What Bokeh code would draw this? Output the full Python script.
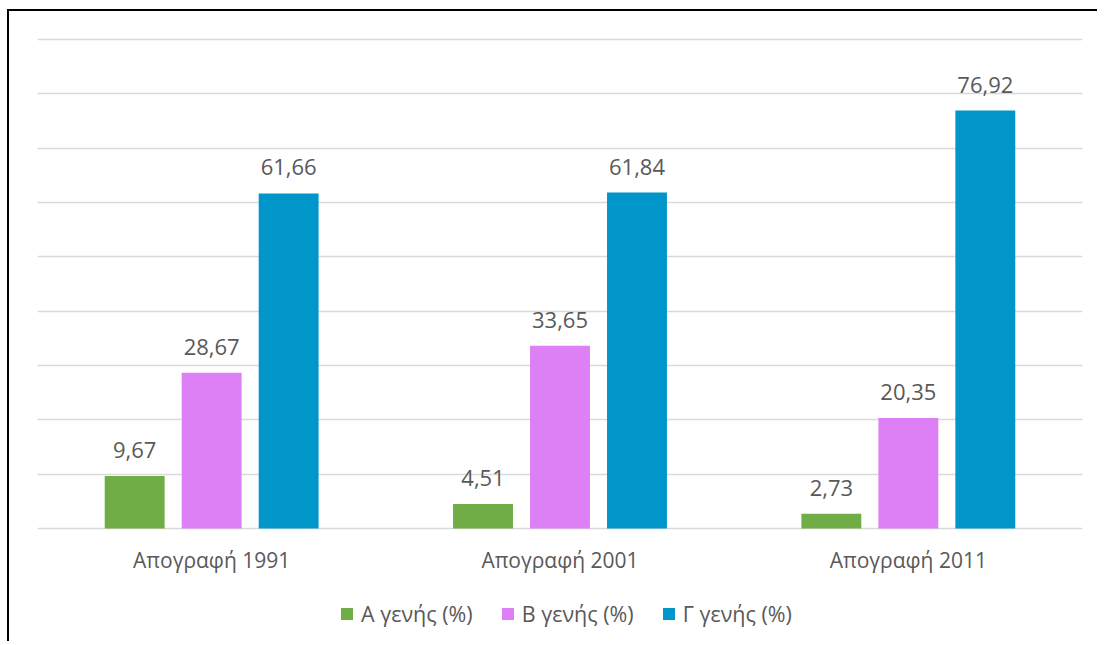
from bokeh.plotting import figure
from bokeh.models import FactorRange, ColumnDataSource, Legend, LegendItem, FixedTicker
from bokeh.transform import dodge
from bokeh.core.properties import value
from bokeh.embed import file_html
from bokeh.resources import INLINE

categories = ["Απογραφή 1991", "Απογραφή 2001", "Απογραφή 2011"]
series_names = ["Α γενής (%)", "Β γενής (%)", "Γ γενής (%)"]
a_values = [9.67, 4.51, 2.73]
b_values = [28.67, 33.65, 20.35]
g_values = [61.66, 61.84, 76.92]
grid_values = list(range(0, 100, 10))
colors = ["#70AD47", "#DD80F5", "#0096C9"]

FONT = "Open Sans"
TXT = "#595959"

p = figure(x_range=FactorRange(*categories, range_padding=0), y_range=(-20.43, 90.736),
           width=1090, height=632, output_backend="svg", toolbar_location=None,
           min_border_left=28, min_border_right=17, min_border_top=24, min_border_bottom=4)
p.styles = {"margin-left": "7px", "margin-top": "9px",
            "border-left": "2px solid black", "border-top": "2px solid black"}
p.outline_line_color = None
p.background_fill_color = "white"
p.border_fill_color = "white"

p.yaxis.visible = False
p.xgrid.grid_line_color = None
p.ygrid.grid_line_color = "#D9D9D9"
p.ygrid.grid_line_width = 1.5
p.yaxis.ticker = FixedTicker(ticks=grid_values)
p.ygrid.ticker = FixedTicker(ticks=grid_values)

p.xaxis.fixed_location = 0
p.xaxis.axis_line_color = None
p.xaxis.major_tick_line_color = None
p.xaxis.minor_tick_line_color = None
p.xaxis.major_tick_out = 0
p.xaxis.major_tick_in = 0
p.xaxis.major_label_text_font = FONT
p.xaxis.major_label_text_font_size = "21px"
p.xaxis.major_label_text_color = TXT
p.xaxis.major_label_standoff = 18

offsets = [-0.221, 0.0, 0.221]
vals = [a_values, b_values, g_values]
items = []
for name, v, c, off in zip(series_names, vals, colors, offsets):
    src = ColumnDataSource(dict(x=categories, y=v,
                                lab=[f"{t:.2f}".replace(".", ",") for t in v]))
    r = p.vbar(x=dodge("x", off, range=p.x_range), top="y", width=0.172, source=src,
               fill_color=c, line_color=None)
    p.text(x=dodge("x", off, range=p.x_range), y="y", text="lab", source=src,
           text_align="center", text_baseline="alphabetic", y_offset=-26,
           text_font=value(FONT), text_font_size="22px", text_color=TXT)
    items.append(LegendItem(label=name, renderers=[r]))

legend = Legend(items=items, orientation="horizontal", location=(302, 11),
                label_text_font=FONT, label_text_font_size="21.5px", label_text_color=TXT,
                glyph_width=15, glyph_height=15, spacing=27, label_standoff=7,
                border_line_color=None, background_fill_alpha=0, margin=0, padding=0)
p.add_layout(legend, "center")

open("out.html", "w").write(file_html(p, INLINE))
